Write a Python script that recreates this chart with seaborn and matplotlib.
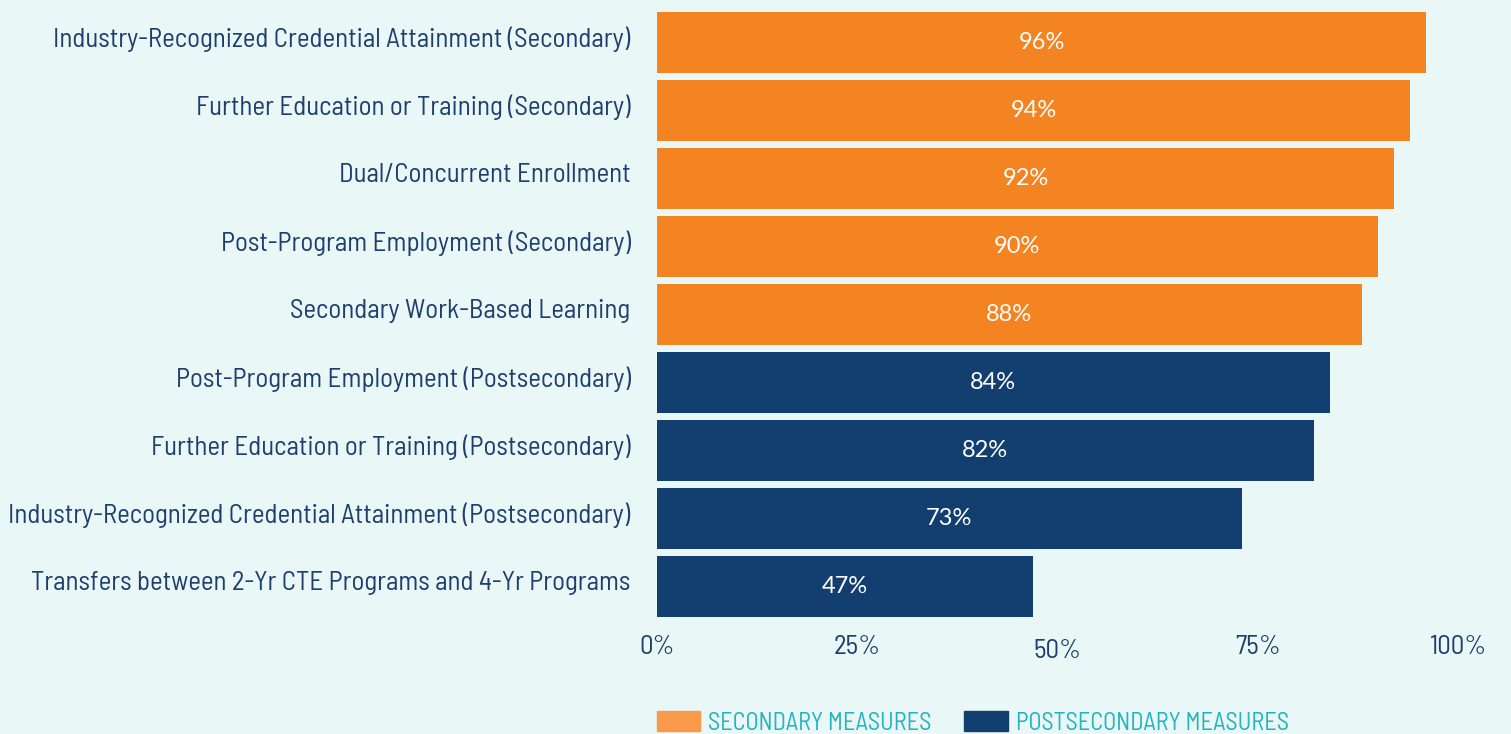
import matplotlib.pyplot as plt
import matplotlib.transforms as mtrans
import seaborn as sns
import pandas as pd
from matplotlib.patches import Patch

measures = [
    "Industry-Recognized Credential Attainment (Secondary)",
    "Further Education or Training (Secondary)",
    "Dual/Concurrent Enrollment",
    "Post-Program Employment (Secondary)",
    "Secondary Work-Based Learning",
    "Post-Program Employment (Postsecondary)",
    "Further Education or Training (Postsecondary)",
    "Industry-Recognized Credential Attainment (Postsecondary)",
    "Transfers between 2-Yr CTE Programs and 4-Yr Programs",
]
values = [96, 94, 92, 90, 88, 84, 82, 73, 47]
groups = ["Secondary"] * 5 + ["Postsecondary"] * 4
ticks = [0, 25, 50, 75, 100]

bg = "#eaf7f7"
orange = "#f48322"
navy = "#133f70"
label_col = "#1e3f6e"
legend_col = "#22b4c0"

sns.set_theme(style="white")
plt.rcParams["font.family"] = ["Barlow Semi Condensed", "DejaVu Sans"]

df = pd.DataFrame({"measure": measures, "value": values, "group": groups})

fig = plt.figure(figsize=(15.11, 7.34), dpi=100, facecolor=bg)
ax = fig.add_axes([0.4348, 0.159, 0.5301, 0.825])
ax.set_facecolor(bg)

sns.barplot(data=df, x="value", y="measure", hue="group",
            palette={"Secondary": orange, "Postsecondary": navy},
            dodge=False, width=0.9, legend=False, ax=ax, saturation=1,
            linewidth=0)

for c in ax.containers:
    ax.bar_label(c, labels=[f"{v:.0f}%" for v in c.datavalues],
                 label_type="center", color="white", fontsize=17,
                 family=["Lato", "DejaVu Sans"])

ax.set_xlim(0, 100)
ax.set_ylim(8.45, -0.45)
ax.set_xticks(ticks)
ax.set_xticklabels([f"{t}%" for t in ticks])
ax.set_xlabel("")
ax.set_ylabel("")
ax.tick_params(axis="y", labelsize=19.4, colors=label_col, length=0, pad=19)
ax.tick_params(axis="x", labelsize=19.4, colors=label_col, length=0, pad=13)
for s in ax.spines.values():
    s.set_visible(False)

# category labels sit slightly above the bar centres in the original
up = mtrans.ScaledTranslation(0, 6 / 100, fig.dpi_scale_trans)
for lab in ax.get_yticklabels():
    lab.set_transform(lab.get_transform() + up)

# the 50% label sits a little lower in the original
lab50 = ax.get_xticklabels()[2]
lab50.set_transform(lab50.get_transform() + mtrans.ScaledTranslation(0, -4 / 100, fig.dpi_scale_trans))

handles = [Patch(color="#f89a4a", label="SECONDARY MEASURES"),
           Patch(color=navy, label="POSTSECONDARY MEASURES")]
leg = fig.legend(handles=handles, loc="upper left", bbox_to_anchor=(0.4348, 0.031),
                 ncol=2, frameon=False, fontsize=17.5, handlelength=1.78,
                 handleheight=0.9, columnspacing=1.35, handletextpad=0.33,
                 borderpad=0, borderaxespad=0)
for t in leg.get_texts():
    t.set_color(legend_col)

fig.savefig("out.png", dpi=100, facecolor=bg)
